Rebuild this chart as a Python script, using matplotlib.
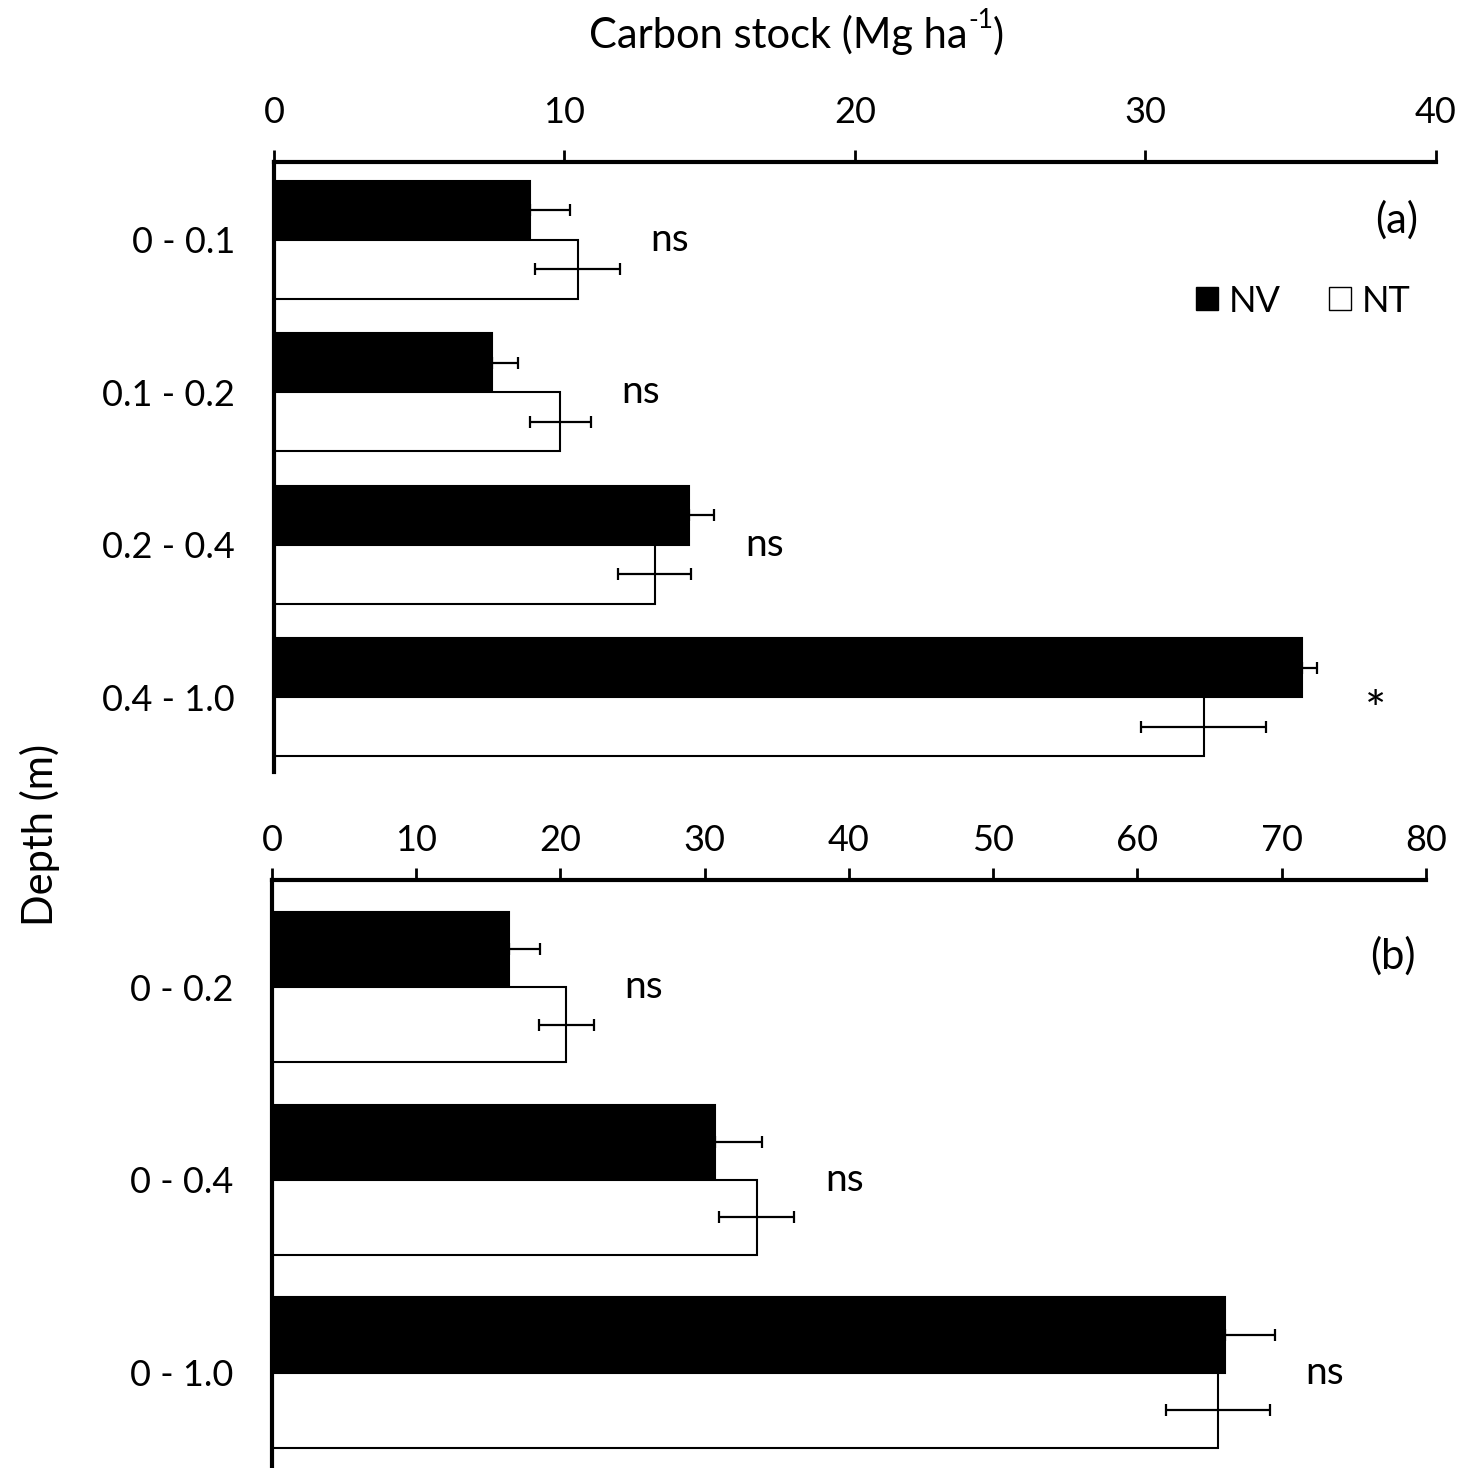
import numpy as np
import matplotlib
matplotlib.use("Agg")
import matplotlib.pyplot as plt
from matplotlib.patches import Patch

plt.rcParams['font.family'] = ['Lato', 'DejaVu Sans']

# panel (a): layers
depth_a = ['0 - 0.1', '0.1 - 0.2', '0.2 - 0.4', '0.4 - 1.0']
nv_a = [8.8, 7.5, 14.3, 35.4]
nv_a_err = [1.4, 0.9, 0.85, 0.5]
nt_a = [10.45, 9.85, 13.1, 32.0]
nt_a_err = [1.45, 1.05, 1.25, 2.15]
sig_a = ['ns', 'ns', 'ns', '*']
ticks_a = [0, 10, 20, 30, 40]

# panel (b): cumulative
depth_b = ['0 - 0.2', '0 - 0.4', '0 - 1.0']
nv_b = [16.4, 30.7, 66.1]
nv_b_err = [2.2, 3.3, 3.4]
nt_b = [20.4, 33.6, 65.6]
nt_b_err = [1.9, 2.6, 3.6]
sig_b = ['ns', 'ns', 'ns']
ticks_b = [0, 10, 20, 30, 40, 50, 60, 70, 80]

FS = 26

fig = plt.figure(figsize=(14.63, 14.68), dpi=100)
ax1 = fig.add_axes([0.1873, 0.4741, 0.7942, 0.4155])
ax2 = fig.add_axes([0.1859, 0.0007, 0.7888, 0.3998])


def draw_panel(ax, cats, nv, nv_err, nt, nt_err, sig, ticks, h, ylim, label, lab_x, lab_y, xpad):
    y = np.arange(len(cats))
    ax.barh(y - h / 2, nv, height=h, color='black', edgecolor='black', linewidth=1.5)
    ax.barh(y + h / 2, nt, height=h, color='white', edgecolor='black', linewidth=1.5)
    ekw = dict(fmt='none', ecolor='black', elinewidth=1.6, capsize=4.5, capthick=1.6)
    ax.errorbar(nv, y - h / 2, xerr=[np.zeros(len(nv)), nv_err], **ekw)  # one-sided
    ax.errorbar(nt, y + h / 2, xerr=nt_err, **ekw)
    for i in range(len(cats)):
        top = max(nv[i] + nv_err[i], nt[i] + nt_err[i])
        if sig[i] == '*':
            ax.annotate(sig[i], (top, i), xytext=(42, -11), textcoords='offset points',
                        ha='center', va='center', fontsize=36)
        else:
            ax.annotate(sig[i], (top, i), xytext=(36, 0), textcoords='offset points',
                        ha='center', va='center', fontsize=28)
    ax.set_xlim(ticks[0], ticks[-1])
    ax.set_ylim(*ylim)
    ax.set_xticks(ticks)
    ax.set_yticks(y)
    ax.set_yticklabels(cats)
    ax.xaxis.tick_top()
    ax.tick_params(axis='x', direction='out', length=9, width=2, pad=xpad, labelsize=FS)
    ax.tick_params(axis='y', length=0, pad=28, labelsize=FS)
    for s in ['right', 'bottom']:
        ax.spines[s].set_visible(False)
    ax.spines['top'].set_linewidth(3)
    ax.spines['left'].set_linewidth(3)
    ax.text(lab_x, lab_y, label, transform=ax.transAxes, ha='center', va='center', fontsize=30)


draw_panel(ax1, depth_a, nv_a, nv_a_err, nt_a, nt_a_err, sig_a, ticks_a,
           0.386, (3.49, -0.51), '(a)', 0.966, 0.905, 14.5)
draw_panel(ax2, depth_b, nv_b, nv_b_err, nt_b, nt_b_err, sig_b, ticks_b,
           0.39, (2.49, -0.555), '(b)', 0.971, 0.87, 7.5)

handles = [Patch(facecolor='black', edgecolor='black', label='NV'),
           Patch(facecolor='white', edgecolor='black', label='NT')]
ax1.legend(handles=handles, ncol=2, frameon=False, fontsize=FS,
           loc='center right', bbox_to_anchor=(1.006, 0.772),
           handlelength=0.6, handleheight=0.6, handletextpad=0.3, columnspacing=1.35)

# title, superscript with a plain hyphen
t1 = fig.text(968 / 1463, 0.976, 'Carbon stock (Mg ha', ha='right', va='center', fontsize=30)
t2 = ax1.annotate('-1', xy=(1.0, 0.55), xycoords=t1, ha='left', va='bottom', fontsize=19)
ax1.annotate(')', xy=(1.0, 0.0), xycoords=(t2, t1), ha='left', va='bottom', fontsize=30)

fig.text(0.0273, 0.431, 'Depth (m)', rotation=90, ha='center', va='center', fontsize=30)

fig.savefig('out.png', dpi=100)
